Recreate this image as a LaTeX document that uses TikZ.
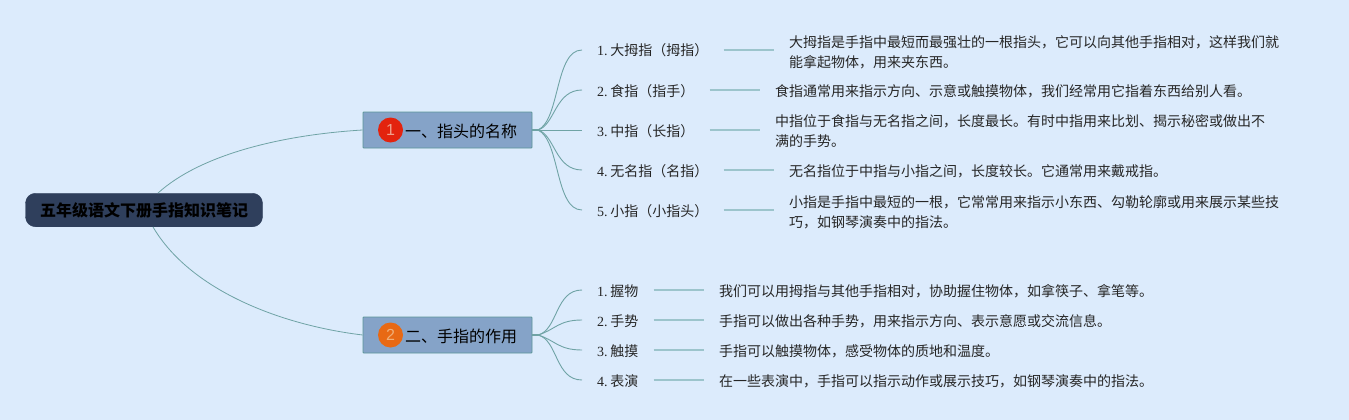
\documentclass[tikz,border=0pt]{standalone}
\usepackage{fontspec}
\setmainfont{Noto Sans CJK SC}
\newfontfamily\latin{Liberation Serif}
\newfontfamily\badgefont{Liberation Sans}
\definecolor{bg}{HTML}{DCEBFC}
\definecolor{rootfill}{HTML}{2F3F5C}
\definecolor{boxfill}{HTML}{85A3C8}
\definecolor{boxline}{HTML}{5B9598}
\definecolor{curve}{HTML}{6FA3A5}
\definecolor{leafline}{HTML}{9CC4CC}
\tikzset{
  rootnode/.style={fill=rootfill,draw=rootfill,rounded corners=10pt,minimum width=237pt,minimum height=33.5pt,inner sep=0pt,font=\fontsize{16}{20}\selectfont,text=black},
  branchnode/.style={fill=boxfill,draw=boxline,line width=0.8pt,rounded corners=0.8pt,minimum width=169pt,minimum height=36pt,inner sep=0pt,font=\fontsize{16}{20}\selectfont,text=black,text height=15pt,text depth=0pt},
  badge/.style={circle,minimum size=25pt,inner sep=0pt,font=\badgefont\fontsize{16}{18}\selectfont},
  leaflabel/.style={anchor=west,inner xsep=15pt,inner ysep=0pt,font=\fontsize{14}{20}\selectfont,text=black!85,text height=12pt,text depth=0pt},
  leaftext/.style={anchor=west,inner xsep=15pt,inner ysep=0pt,align=left,font=\fontsize{14}{20}\selectfont,text=black!85,text height=12pt,text depth=0pt},
  rootcurve/.style={draw=curve,line width=0.8pt},
  stub/.style={draw=curve,line width=2pt},
  twig/.style={draw=curve,line width=0.9pt},
  leafrule/.style={draw=leafline,line width=1.4pt}
}
\newcommand{\digit}[1]{{\latin #1. }\hspace{-2pt}}
\begin{document}
\begin{tikzpicture}[x=1pt,y=-1pt]
\useasboundingbox (0,0) rectangle (1349,420);
\fill[bg] (0,0) rectangle (1349,420);

\node[rootnode] (root) at (144,210) {\textbf{五年级语文下册手指知识笔记}};
\node[branchnode] (n1) at (447.5,130) {\hspace{27pt}一、指头的名称};
\node[branchnode] (n2) at (447.5,335) {\hspace{27pt}二、手指的作用};
\node[badge,fill={rgb,255:red,227;green,35;blue,14},text={rgb,255:red,240;green,160;blue,140}] (b1) at (390.5,130) {1};
\node[badge,fill={rgb,255:red,232;green,105;blue,20},text={rgb,255:red,240;green,175;blue,120}] (b2) at (390.5,335) {2};

\coordinate (h1) at (538,130);
\coordinate (h2) at (538,335);

\draw[rootcurve] ([xshift=14pt]root.north) .. controls (200,155) and (280,135) .. (n1.west);
\draw[rootcurve] ([xshift=9pt]root.south) .. controls (190,290) and (280,325) .. (n2.west);
\draw[stub] (n1.east) -- (h1);
\draw[stub] (n2.east) -- (h2);

% first group
\node[leaflabel] (a1) at (582,50) {\digit{1}大拇指（拇指）};
\node[leaflabel] (a2) at (582,90) {\digit{2}食指（指手）};
\node[leaflabel] (a3) at (582,130) {\digit{3}中指（长指）};
\node[leaflabel] (a4) at (582,170) {\digit{4}无名指（名指）};
\node[leaflabel] (a5) at (582,210) {\digit{5}小指（小指头）};
\node[leaftext] (t1) at (774,61) {大拇指是手指中最短而最强壮的一根指头，它可以向其他手指相对，这样我们就\\能拿起物体，用来夹东西。};
\node[leaftext] (t2) at (760,90) {食指通常用来指示方向、示意或触摸物体，我们经常用它指着东西给别人看。};
\node[leaftext] (t3) at (760,140) {中指位于食指与无名指之间，长度最长。有时中指用来比划、揭示秘密或做出不\\满的手势。};
\node[leaftext] (t4) at (774,170) {无名指位于中指与小指之间，长度较长。它通常用来戴戒指。};
\node[leaftext] (t5) at (774,221) {小指是手指中最短的一根，它常常用来指示小东西、勾勒轮廓或用来展示某些技\\巧，如钢琴演奏中的指法。};

\draw[twig] (h1) .. controls (560,120) and (555,50) .. (a1.west);
\draw[twig] (h1) .. controls (555,125) and (555,90) .. (a2.west);
\draw[twig] (h1) -- (a3.west);
\draw[twig] (h1) .. controls (555,135) and (555,170) .. (a4.west);
\draw[twig] (h1) .. controls (560,140) and (555,210) .. (a5.west);
\foreach \i in {1,...,5} \draw[leafrule] (a\i.east) -- (a\i.east -| t\i.west);

% second group
\node[leaflabel] (c1) at (582,290) {\digit{1}握物};
\node[leaflabel] (c2) at (582,320) {\digit{2}手势};
\node[leaflabel] (c3) at (582,350) {\digit{3}触摸};
\node[leaflabel] (c4) at (582,380) {\digit{4}表演};
\node[leaftext] (d1) at (704,290) {我们可以用拇指与其他手指相对，协助握住物体，如拿筷子、拿笔等。};
\node[leaftext] (d2) at (704,320) {手指可以做出各种手势，用来指示方向、表示意愿或交流信息。};
\node[leaftext] (d3) at (704,350) {手指可以触摸物体，感受物体的质地和温度。};
\node[leaftext] (d4) at (704,380) {在一些表演中，手指可以指示动作或展示技巧，如钢琴演奏中的指法。};

\draw[twig] (h2) .. controls (558,330) and (555,290) .. (c1.west);
\draw[twig] (h2) .. controls (555,330) and (558,320) .. (c2.west);
\draw[twig] (h2) .. controls (555,340) and (558,350) .. (c3.west);
\draw[twig] (h2) .. controls (558,340) and (555,380) .. (c4.west);
\foreach \i in {1,...,4} \draw[leafrule] (c\i.east) -- (d\i.west);
\end{tikzpicture}
\end{document}
